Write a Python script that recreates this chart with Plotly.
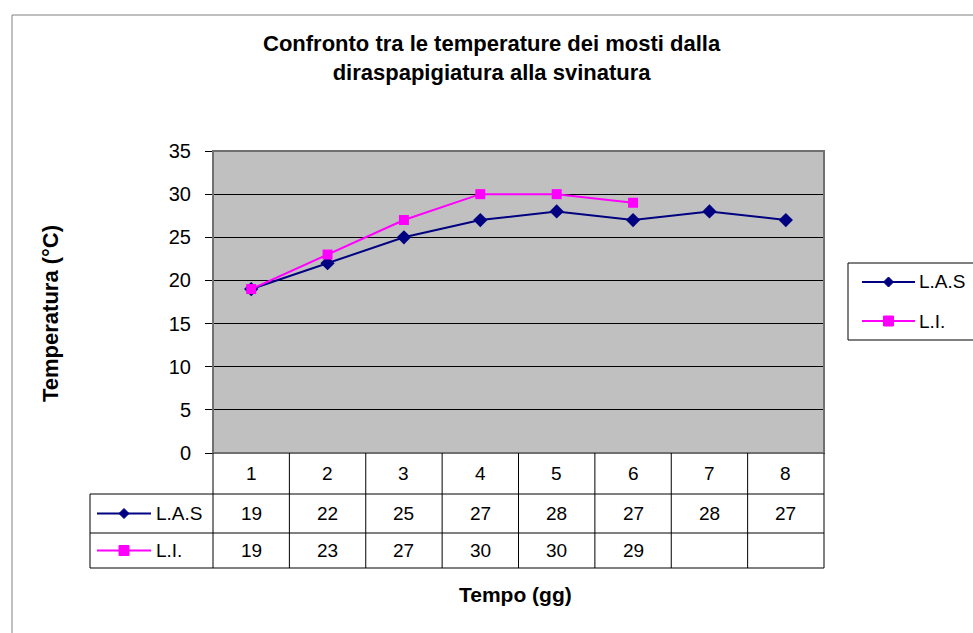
import plotly.graph_objects as go

categories = [1, 2, 3, 4, 5, 6, 7, 8]
las = [19, 22, 25, 27, 28, 27, 28, 27]
li = [19, 23, 27, 30, 30, 29, None, None]
series_names = ["L.A.S", "L.I."]
y_ticks = [0, 5, 10, 15, 20, 25, 30, 35]
title_text = "Confronto tra le temperature dei mosti dalla<br>diraspapigiatura alla svinatura"
y_title = "Temperatura (°C)"
x_title = "Tempo (gg)"

W, H = 973, 633
FONT = "Liberation Sans, Arial, sans-serif"
C_LAS = "#000080"
C_LI = "#FF00FF"
series_colors = [C_LAS, C_LI]

def px(x):
    return x / W

def py(y):
    return 1 - y / H

X0, X1 = px(213), px(824)
Y0, Y1 = py(453), py(151)
xmin, xmax = 0.5, len(categories) + 0.5

def xp(v):
    return X0 + (v - xmin) / (xmax - xmin) * (X1 - X0)

fig = go.Figure()
fig.add_trace(go.Scatter(
    x=categories, y=las, mode="lines+markers", name=series_names[0],
    line=dict(color=C_LAS, width=2),
    marker=dict(symbol="diamond", size=11, color=C_LAS),
))
fig.add_trace(go.Scatter(
    x=categories, y=li, mode="lines+markers", name=series_names[1],
    line=dict(color=C_LI, width=2),
    marker=dict(symbol="square", size=10, color=C_LI),
    connectgaps=False,
))

shapes = []
# chart area border (top/left visible)
shapes.append(dict(type="line", xref="paper", yref="paper", x0=px(12), x1=1, y0=py(15), y1=py(15),
                   line=dict(color="#808080", width=1)))
shapes.append(dict(type="line", xref="paper", yref="paper", x0=px(12), x1=px(12), y0=py(15), y1=0,
                   line=dict(color="#808080", width=1)))
# plot area border
shapes.append(dict(type="rect", xref="paper", yref="paper", x0=X0, x1=X1, y0=Y0, y1=Y1,
                   line=dict(color="#707070", width=2), layer="above"))

# data table grid
row_lines = [494, 533, 568]
for ry in row_lines:
    shapes.append(dict(type="line", xref="paper", yref="paper", x0=px(90), x1=X1, y0=py(ry), y1=py(ry),
                       line=dict(color="black", width=1)))
shapes.append(dict(type="line", xref="paper", yref="paper", x0=px(90), x1=px(90), y0=py(494), y1=py(568),
                   line=dict(color="black", width=1)))
for k in range(len(categories) + 1):
    xv = xp(xmin + k)
    shapes.append(dict(type="line", xref="paper", yref="paper", x0=xv, x1=xv, y0=py(453), y1=py(568),
                       line=dict(color="black", width=1)))


def key(x_left, x_right, cy, col, symbol, half):
    out = [dict(type="line", xref="paper", yref="paper", x0=px(x_left), x1=px(x_right), y0=py(cy), y1=py(cy),
                line=dict(color=col, width=2))]
    cx = (x_left + x_right) / 2
    if symbol == "diamond":
        out.append(dict(type="path", xref="paper", yref="paper",
                        path=(f"M {px(cx-half)} {py(cy)} L {px(cx)} {py(cy-half)} "
                              f"L {px(cx+half)} {py(cy)} L {px(cx)} {py(cy+half)} Z"),
                        fillcolor=col, line=dict(color=col, width=1)))
    else:
        out.append(dict(type="rect", xref="paper", yref="paper", x0=px(cx-half), x1=px(cx+half),
                        y0=py(cy+half), y1=py(cy-half), fillcolor=col, line=dict(color=col, width=1)))
    return out

symbols = ["diamond", "square"]

# legend keys in table
row_centers = [513.5, 550.5]
for rc, col, sym in zip(row_centers, series_colors, symbols):
    shapes += key(97, 151, rc, col, sym, 5)

# manual legend box
shapes.append(dict(type="rect", xref="paper", yref="paper", x0=px(848), x1=px(990), y0=py(340), y1=py(263),
                   line=dict(color="black", width=1), fillcolor="white"))
legend_rows = [282, 321]
for ly, col, sym in zip(legend_rows, series_colors, symbols):
    shapes += key(862, 915, ly, col, sym, 5)

annotations = []
TF = dict(family=FONT, size=19, color="black")
for c in categories:
    annotations.append(dict(x=c, y=py(473.5), xref="x", yref="paper", text=str(c), showarrow=False,
                            xanchor="center", yanchor="middle", font=TF))
for series, rc in zip([las, li], row_centers):
    for c, v in zip(categories, series):
        if v is not None:
            annotations.append(dict(x=c, y=py(rc), xref="x", yref="paper", text=str(v), showarrow=False,
                                    xanchor="center", yanchor="middle", font=TF))
for name, rc in zip(series_names, row_centers):
    annotations.append(dict(x=px(154), y=py(rc), xref="paper", yref="paper", text=name, showarrow=False,
                            xanchor="left", yanchor="middle", font=TF))
for name, ly in zip(series_names, legend_rows):
    annotations.append(dict(x=px(917), y=py(ly), xref="paper", yref="paper", text=name, showarrow=False,
                            xanchor="left", yanchor="middle", font=TF))

annotations.append(dict(x=px(492), y=py(58), xref="paper", yref="paper", text="<b>" + title_text + "</b>",
                        showarrow=False, xanchor="center", yanchor="middle",
                        font=dict(family=FONT, size=22, color="black"), align="center"))
annotations.append(dict(x=px(50), y=py(314), xref="paper", yref="paper", text="<b>" + y_title + "</b>",
                        showarrow=False, textangle=-90, xanchor="center", yanchor="middle",
                        font=dict(family=FONT, size=22, color="black")))
annotations.append(dict(x=px(515), y=py(594), xref="paper", yref="paper", text="<b>" + x_title + "</b>",
                        showarrow=False, xanchor="center", yanchor="middle",
                        font=dict(family=FONT, size=21, color="black")))

fig.update_layout(
    width=W, height=H,
    margin=dict(l=0, r=0, t=0, b=0, pad=0, autoexpand=False),
    paper_bgcolor="white",
    plot_bgcolor="#C0C0C0",
    font=dict(family=FONT, color="black"),
    showlegend=False,
    xaxis=dict(domain=[X0, X1], range=[xmin, xmax], showticklabels=False, ticks="",
               showgrid=False, zeroline=False, showline=True, linecolor="black", linewidth=1,
               fixedrange=True, automargin=False),
    yaxis=dict(domain=[Y0, Y1], range=[0, 35], tickvals=y_ticks, ticks="outside", ticklen=7,
               tickcolor="black", showline=True, linecolor="black", linewidth=1,
               showgrid=True, gridcolor="black", gridwidth=1, zeroline=False,
               tickfont=dict(family=FONT, size=20, color="black"), ticklabelstandoff=10,
               fixedrange=True, automargin=False),
    shapes=shapes,
    annotations=annotations,
)

fig.write_html("out.html", config={"displayModeBar": False},
               post_script="document.body.style.margin='0';document.body.style.overflow='hidden';")
